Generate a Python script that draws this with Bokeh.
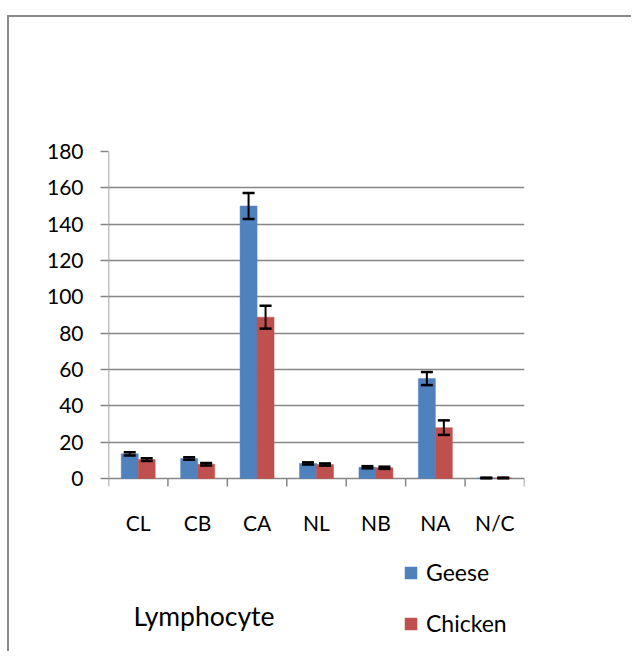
from bokeh.plotting import figure
from bokeh.models import (Range1d, FixedTicker, ColumnDataSource,
                          Whisker, TeeHead, Legend, LegendItem, Label, FactorRange)
from bokeh.core.properties import value
from bokeh.transform import dodge
from bokeh.embed import file_html
from bokeh.resources import INLINE

categories = ["CL", "CB", "CA", "NL", "NB", "NA", "N/C"]
geese = [13.6, 11.0, 150.0, 8.3, 6.2, 55.0, 0.3]
geese_err = [0.9, 0.7, 7.2, 0.6, 0.6, 3.6, 0.2]
chicken = [10.4, 7.9, 88.8, 7.7, 5.9, 28.0, 0.3]
chicken_err = [0.7, 0.7, 6.3, 0.6, 0.6, 4.0, 0.2]
series_names = ["Geese", "Chicken"]
y_ticks = [0, 20, 40, 60, 80, 100, 120, 140, 160, 180]
x_title = "Lymphocyte"

FONT = "Lato"
FS = "21px"
GRID = "#868686"
BLUE = "#4F81BD"
RED = "#C0504D"
BW = 1 / 3.5
OFF = BW / 2

# layout in pixels (canvas content starts at page x=9, y=17)
W, H = 624, 636
FL, FT, FW = 99, 134, 416
PLOT_PX = 327            # pixel height of the 0..180 value span
FH = 494                 # frame extends below the value axis to hold the texts
Y_MAX = y_ticks[-1]
UPP = Y_MAX / PLOT_PX    # data units per pixel
Y_MIN = -(FH - PLOT_PX) * UPP
TICK = 8 * UPP
LABEL_Y = -44 * UPP

src = ColumnDataSource(dict(
    cat=categories,
    geese=geese,
    chicken=chicken,
    g_up=[v + e for v, e in zip(geese, geese_err)],
    g_lo=[v - e for v, e in zip(geese, geese_err)],
    c_up=[v + e for v, e in zip(chicken, chicken_err)],
    c_lo=[v - e for v, e in zip(chicken, chicken_err)],
))

p = figure(x_range=FactorRange(*categories), y_range=Range1d(Y_MIN, Y_MAX),
           width=W, height=H, output_backend="svg", toolbar_location=None,
           x_axis_location=None, y_axis_location="left",
           min_border_left=FL, min_border_top=FT,
           min_border_right=W - FL - FW, min_border_bottom=H - FT - FH)
p.outline_line_color = None
p.border_fill_color = "white"
p.xgrid.grid_line_color = None
p.ygrid.grid_line_color = GRID
p.ygrid.grid_line_width = 1.5
p.ygrid.ticker = FixedTicker(ticks=y_ticks)

ya = p.yaxis[0]
ya.ticker = FixedTicker(ticks=y_ticks)
ya.axis_line_color = None
ya.major_tick_line_color = GRID
ya.major_tick_line_width = 1.5
ya.major_tick_out = 8
ya.major_tick_in = 0
ya.minor_tick_line_color = None
ya.major_label_text_font = FONT
ya.major_label_text_font_size = FS
ya.major_label_text_color = "black"
ya.major_label_standoff = 17

# value axis line and category boundary tick marks
n = len(categories)
edges = list(range(n + 1))
p.segment(x0=[0], x1=[0], y0=[0], y1=[Y_MAX], line_color=GRID, line_width=1.5)
p.segment(x0=edges, x1=edges, y0=[0] * (n + 1), y1=[-TICK] * (n + 1),
          line_color=GRID, line_width=1.5)

# category labels
p.text(x=categories, y=[LABEL_Y] * n, text=categories,
       text_font=value(FONT), text_font_size=value(FS), text_color="black",
       text_align="center", text_baseline="middle")

rg = p.vbar(x=dodge("cat", -OFF, range=p.x_range), top="geese", width=BW, source=src,
            fill_color=BLUE, line_color=BLUE, line_width=0.5)
rc = p.vbar(x=dodge("cat", OFF, range=p.x_range), top="chicken", width=BW, source=src,
            fill_color=RED, line_color=RED, line_width=0.5)

for base_off, up, lo in [(-OFF, "g_up", "g_lo"), (OFF, "c_up", "c_lo")]:
    w = Whisker(source=src, base=dodge("cat", base_off, range=p.x_range), upper=up, lower=lo,
                line_color="black", line_width=2, level="annotation",
                upper_head=TeeHead(size=12, line_width=2.5, line_color="black"),
                lower_head=TeeHead(size=12, line_width=2.5, line_color="black"))
    p.add_layout(w)

legend = Legend(items=[LegendItem(label=series_names[0], renderers=[rg]),
                       LegendItem(label=series_names[1], renderers=[rc])],
                location=(295, 8), orientation="vertical",
                glyph_width=15, glyph_height=15, label_height=15,
                label_text_font=FONT, label_text_font_size="23px", label_text_color="black",
                spacing=23, padding=0, margin=0, label_standoff=8,
                border_line_color=None, background_fill_alpha=0)
p.add_layout(legend)

p.add_layout(Label(x=25, y=30, x_units="screen", y_units="screen", text=x_title,
                   text_font=FONT, text_font_size="26.5px", text_color="black",
                   text_baseline="middle"))

p.styles = {"border-top": "2px solid #8a8a8a", "border-left": "2px solid #8a8a8a",
            "border-right": "none", "border-bottom": "none",
            "outline": "none", "box-shadow": "none",
            "margin-top": "15px", "margin-left": "7px"}

open("out.html", "w").write(file_html(p, INLINE))
